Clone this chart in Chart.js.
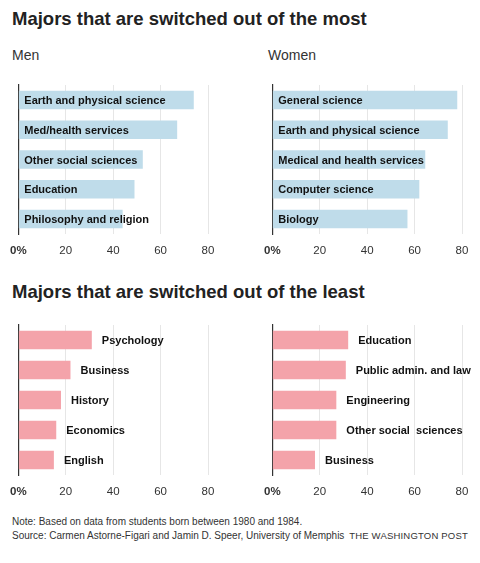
<!DOCTYPE html>
<html><head><meta charset="utf-8">
<script src="https://cdn.jsdelivr.net/npm/chart.js@4"></script>
<style>
body{margin:0;width:480px;height:563px;background:#fff;font-family:"Liberation Sans",Arial,sans-serif;color:#222;position:relative;overflow:hidden}
.t{position:absolute;left:12px;font-weight:bold;font-size:18.5px;color:#222}
.s{position:absolute;font-size:14px;color:#333}
.n{position:absolute;left:12px;font-size:10px;color:#333}
.wp{position:absolute;right:12px;top:530px;font-size:9.5px;letter-spacing:0.2px;color:#333}
.c{position:absolute;width:240px}
</style></head><body>
<div class="t" style="top:8px">Majors that are switched out of the most</div>
<div class="s" style="left:12px;top:47px">Men</div>
<div class="s" style="left:268px;top:47px">Women</div>
<div class="t" style="top:281px">Majors that are switched out of the least</div>
<div class="n" style="top:516px">Note: Based on data from students born between 1980 and 1984.</div>
<div class="n" style="top:530px">Source: Carmen Astorne-Figari and Jamin D. Speer, University of Memphis</div>
<div class="wp">THE WASHINGTON POST</div>
<div class="c" style="left:0;top:80px;height:180px"><canvas id="c1"></canvas></div>
<div class="c" style="left:254px;top:80px;height:180px"><canvas id="c2"></canvas></div>
<div class="c" style="left:0;top:320px;height:182px"><canvas id="c3"></canvas></div>
<div class="c" style="left:254px;top:320px;height:182px"><canvas id="c4"></canvas></div>
<script>
const menMostLabels=["Earth and physical science","Med/health services","Other social sciences","Education","Philosophy and religion"];
const menMostValues=[74,67,52.5,49,44];
const womenMostLabels=["General science","Earth and physical science","Medical and health services","Computer science","Biology"];
const womenMostValues=[78,74,64.5,62,57];
const menLeastLabels=["Psychology","Business","History","Economics","English"];
const menLeastValues=[31,22,18,16,15];
const womenLeastLabels=["Education","Public admin. and law","Engineering","Other social  sciences","Business"];
const womenLeastValues=[32,31,27,27,18];
const xTicks=[0,20,40,60,80];

function make(id,labels,values,color,inside,xh){
  const lbl={id:'lbl',afterDatasetsDraw(ch){
    const ctx=ch.ctx,meta=ch.getDatasetMeta(0),x0=ch.scales.x.getPixelForValue(0);
    ctx.save();ctx.font='bold 11px "Liberation Sans",Arial,sans-serif';ctx.fillStyle='#111';ctx.textBaseline='middle';
    meta.data.forEach((b,i)=>{ctx.fillText(labels[i],inside?x0+6:b.x+10,b.y+1);});
    ctx.restore();}};
  new Chart(document.getElementById(id),{type:'bar',
    data:{labels:labels,datasets:[{data:values,backgroundColor:color,barPercentage:0.62,categoryPercentage:1}]},
    options:{indexAxis:'y',responsive:true,maintainAspectRatio:false,animation:false,
      layout:{padding:{left:16,right:32,top:5,bottom:0}},
      plugins:{legend:{display:false},tooltip:{enabled:false}},
      scales:{
        x:{min:0,max:80,afterBuildTicks(s){s.ticks=xTicks.map(v=>({value:v}));},
          afterFit(s){s.height=xh;},
          grid:{color:'#e6e6e6',drawTicks:false},border:{display:false},
          ticks:{padding:10,color:'#333',font:c=>({size:11.5,weight:c.tick&&c.tick.value===0?'bold':'normal',family:'"Liberation Sans",Arial'}),
            callback:v=>v===0?'0%':String(v)}},
        y:{afterFit(s){s.width=0;},ticks:{display:false},grid:{display:false,drawTicks:false},border:{display:true,color:'#333',width:1.2}}
      }},plugins:[lbl]});
}
make('c1',menMostLabels,menMostValues,'#bfdcea',true,26);
make('c2',womenMostLabels,womenMostValues,'#bfdcea',true,26);
make('c3',menLeastLabels,menLeastValues,'#f4a3aa',false,27);
make('c4',womenLeastLabels,womenLeastValues,'#f4a3aa',false,27);
</script></body></html>
